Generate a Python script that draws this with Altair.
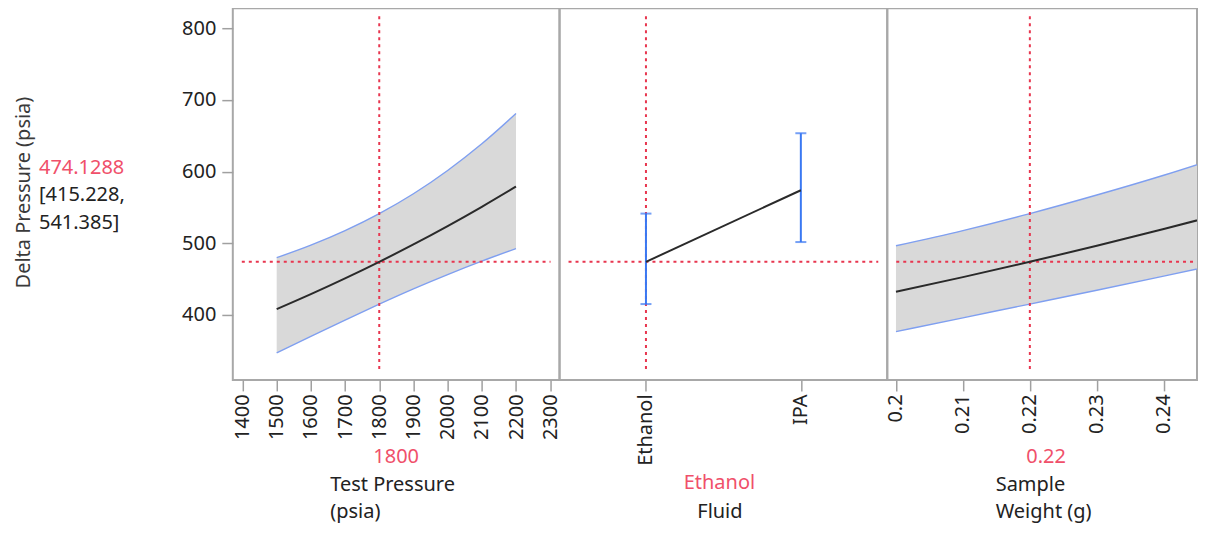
import altair as alt
import pandas as pd

# ---------------- data ----------------
tp_x = [1500, 1600, 1700, 1800, 1900, 2000, 2100, 2200]
tp_pred = [408.1, 429.0, 451.0, 474.1, 498.4, 524.0, 550.9, 579.1]
tp_lower = [347.1, 370.0, 392.9, 415.2, 436.5, 456.4, 475.1, 492.5]
tp_upper = [479.9, 497.4, 517.7, 541.4, 569.1, 601.6, 638.8, 681.0]

fluid_levels = ["Ethanol", "IPA"]
fluid_pred = [474.1, 574.0]
fluid_lower = [415.2, 501.7]
fluid_upper = [541.4, 653.5]

sw_x = [0.20, 0.21, 0.22, 0.23, 0.24, 0.25]
sw_pred = [432.5, 452.8, 474.1, 496.5, 519.8, 544.3]
sw_lower = [376.7, 396.0, 415.2, 434.5, 454.2, 474.1]
sw_upper = [496.5, 517.7, 541.4, 567.3, 594.9, 624.9]

tp_ticks = [1400, 1500, 1600, 1700, 1800, 1900, 2000, 2100, 2200, 2300]
sw_ticks = [0.2, 0.21, 0.22, 0.23, 0.24]
y_ticks = [400, 500, 600, 700, 800]

current_tp = 1800
current_fluid = "Ethanol"
current_sw = 0.22
current_pred = 474.1288
pred_label = ["474.1288"]
ci_label = ["[415.228,", "541.385]"]
tp_label = ["1800"]
fluid_label = ["Ethanol"]
sw_label = ["0.22"]

# ---------------- style ----------------
FONT = "Noto Sans"
FS = 20
RED = "#e8364f"
RED_TXT = "#f0506a"
BAND = "#d9d9d9"
EDGE = "#7f9ff0"
BLUE = "#3a78f2"
BLACK = "#2a2a2a"
TXT = "#222222"
GRID = "#a8a8a8"
H = 372
W1, W2, W3 = 327, 328, 310
DOT = [3, 4]

ys = alt.Scale(domain=[309.4, 827.9], nice=False, zero=False)

# ---------------- panel 1: Test Pressure ----------------
df1 = pd.DataFrame({"x": tp_x, "pred": tp_pred, "lo": tp_lower, "hi": tp_upper})
xs1 = alt.Scale(domain=[1371.7, 2327.3], nice=False, zero=False)
xaxis1 = alt.Axis(values=tp_ticks, format="d", labelAngle=270, labelPadding=3,
                  tickSize=11, domain=False, grid=False,
                  title=["Test Pressure", "(psia)"], titleAlign="left", titleX=97,
                  titleY=111, titleBaseline="alphabetic", titleLineHeight=27)
yaxis1 = alt.Axis(values=y_ticks, tickSize=11, labelPadding=6, domain=False, grid=False,
                  title="Delta Pressure (psia)", titleAngle=270, titleX=-209, titleY=184,
                  titleAlign="center", titleBaseline="middle", titleColor="#3a3a3a")


def X1(f):
    return alt.X(f, scale=xs1, axis=xaxis1)


def Y1(f):
    return alt.Y(f, scale=ys, axis=yaxis1)


b1 = alt.Chart(df1)
p1_band = b1.mark_area(color=BAND, opacity=1, interpolate="monotone").encode(
    x=X1("x:Q"), y=Y1("lo:Q"), y2="hi:Q")
p1_lo = b1.mark_line(color=EDGE, strokeWidth=1.4, interpolate="monotone").encode(
    x=X1("x:Q"), y=Y1("lo:Q"))
p1_hi = b1.mark_line(color=EDGE, strokeWidth=1.4, interpolate="monotone").encode(
    x=X1("x:Q"), y=Y1("hi:Q"))
p1_h = alt.Chart(pd.DataFrame({"v": [current_pred]})).mark_rule(
    color=RED, strokeDash=DOT, strokeWidth=2).encode(
    y=Y1("v:Q"), x=alt.value(9), x2=alt.value(W1 - 9))
p1_v = alt.Chart(pd.DataFrame({"x": [current_tp]})).mark_rule(
    color=RED, strokeDash=DOT, strokeWidth=2).encode(
    x=X1("x:Q"), y=alt.value(8), y2=alt.value(H - 9))
p1_pred = b1.mark_line(color=BLACK, strokeWidth=2, interpolate="monotone").encode(
    x=X1("x:Q"), y=Y1("pred:Q"))
p1_val = alt.Chart(pd.DataFrame({"t": tp_label})).mark_text(
    color=RED_TXT, font=FONT, fontSize=FS, align="center", baseline="alphabetic").encode(
    text="t:N", x=alt.value(W1 / 2), y=alt.value(H + 83))
p1_pred_txt = alt.Chart(pd.DataFrame({"t": pred_label})).mark_text(
    color=RED_TXT, font=FONT, fontSize=FS, align="left", baseline="middle").encode(
    text="t:N", x=alt.value(-194), y=alt.value(160))
p1_ci_txt = alt.Chart(pd.DataFrame({"t": ci_label[:1]})).mark_text(
    color=TXT, font=FONT, fontSize=FS, align="left", baseline="middle",
    text=ci_label, lineHeight=28).encode(
    x=alt.value(-194), y=alt.value(187))

panel1 = alt.layer(p1_band, p1_lo, p1_hi, p1_h, p1_v, p1_pred, p1_val,
                   p1_pred_txt, p1_ci_txt).properties(width=W1, height=H)

# ---------------- panel 2: Fluid ----------------
df2 = pd.DataFrame({"fluid": fluid_levels, "pred": fluid_pred,
                    "lo": fluid_lower, "hi": fluid_upper})
xs2 = alt.Scale(type="point", domain=fluid_levels, padding=0.558)
xaxis2 = alt.Axis(labelAngle=270, labelPadding=3, tickSize=11, domain=False, grid=False,
                  title="Fluid", titleAlign="center", titleX=W2 / 2 - 4, titleY=138,
                  titleBaseline="alphabetic")


def X2(f):
    return alt.X(f, scale=xs2, axis=xaxis2, sort=fluid_levels)


def Yn(f):
    return alt.Y(f, scale=ys, axis=None)


b2 = alt.Chart(df2)
p2_h = alt.Chart(pd.DataFrame({"v": [current_pred]})).mark_rule(
    color=RED, strokeDash=DOT, strokeWidth=2).encode(
    y=Yn("v:Q"), x=alt.value(9), x2=alt.value(W2 - 9))
p2_v = alt.Chart(pd.DataFrame({"fluid": [current_fluid]})).mark_rule(
    color=RED, strokeDash=DOT, strokeWidth=2).encode(
    x=X2("fluid:N"), y=alt.value(8), y2=alt.value(H - 9))
p2_bar = b2.mark_rule(color=BLUE, strokeWidth=2).encode(x=X2("fluid:N"), y=Yn("lo:Q"), y2="hi:Q")
p2_cap_lo = b2.mark_tick(color=BLUE, size=11, thickness=2).encode(x=X2("fluid:N"), y=Yn("lo:Q"))
p2_cap_hi = b2.mark_tick(color=BLUE, size=11, thickness=2).encode(x=X2("fluid:N"), y=Yn("hi:Q"))
p2_line = b2.mark_line(color=BLACK, strokeWidth=2).encode(x=X2("fluid:N"), y=Yn("pred:Q"))
p2_val = alt.Chart(pd.DataFrame({"t": fluid_label})).mark_text(
    color=RED_TXT, font=FONT, fontSize=FS, align="center", baseline="alphabetic").encode(
    text="t:N", x=alt.value(W2 / 2 - 4), y=alt.value(H + 109))

panel2 = alt.layer(p2_h, p2_v, p2_bar, p2_cap_lo, p2_cap_hi, p2_line, p2_val).properties(
    width=W2, height=H)

# ---------------- panel 3: Sample Weight ----------------
df3 = pd.DataFrame({"x": sw_x, "pred": sw_pred, "lo": sw_lower, "hi": sw_upper})
xs3 = alt.Scale(domain=[0.1987, 0.24497], nice=False, zero=False)
xaxis3 = alt.Axis(values=sw_ticks, format=".2~f", labelAngle=270, labelPadding=3,
                  tickSize=11, domain=False, grid=False,
                  title=["Sample", "Weight (g)"], titleAlign="left", titleX=108,
                  titleY=111, titleBaseline="alphabetic", titleLineHeight=27)


def X3(f):
    return alt.X(f, scale=xs3, axis=xaxis3)


b3 = alt.Chart(df3)
p3_band = b3.mark_area(color=BAND, opacity=1, clip=True, interpolate="monotone").encode(
    x=X3("x:Q"), y=Yn("lo:Q"), y2="hi:Q")
p3_lo = b3.mark_line(color=EDGE, strokeWidth=1.4, clip=True, interpolate="monotone").encode(
    x=X3("x:Q"), y=Yn("lo:Q"))
p3_hi = b3.mark_line(color=EDGE, strokeWidth=1.4, clip=True, interpolate="monotone").encode(
    x=X3("x:Q"), y=Yn("hi:Q"))
p3_h = alt.Chart(pd.DataFrame({"v": [current_pred]})).mark_rule(
    color=RED, strokeDash=DOT, strokeWidth=2).encode(
    y=Yn("v:Q"), x=alt.value(9), x2=alt.value(W3))
p3_v = alt.Chart(pd.DataFrame({"x": [current_sw]})).mark_rule(
    color=RED, strokeDash=DOT, strokeWidth=2).encode(
    x=X3("x:Q"), y=alt.value(8), y2=alt.value(H - 9))
p3_pred = b3.mark_line(color=BLACK, strokeWidth=2, clip=True, interpolate="monotone").encode(
    x=X3("x:Q"), y=Yn("pred:Q"))
p3_val = alt.Chart(pd.DataFrame({"t": sw_label})).mark_text(
    color=RED_TXT, font=FONT, fontSize=FS, align="center", baseline="alphabetic").encode(
    text="t:N", x=alt.value(159), y=alt.value(H + 83))

panel3 = alt.layer(p3_band, p3_lo, p3_hi, p3_h, p3_v, p3_pred, p3_val).properties(
    width=W3, height=H)

chart = alt.hconcat(panel1, panel2, panel3, spacing=0, bounds="flush").properties(
    padding={"left": 5, "top": -1, "right": 0, "bottom": 0}
).configure_view(
    stroke=GRID, strokeWidth=2
).configure_axis(
    labelFont=FONT, labelFontSize=FS, labelColor=TXT,
    titleFont=FONT, titleFontSize=FS, titleFontWeight="normal", titleColor=TXT,
    tickColor="#a0a0a0", tickWidth=1.5
).configure_text(font=FONT)

chart.save("out.html", embed_options={"renderer": "svg", "actions": False})
